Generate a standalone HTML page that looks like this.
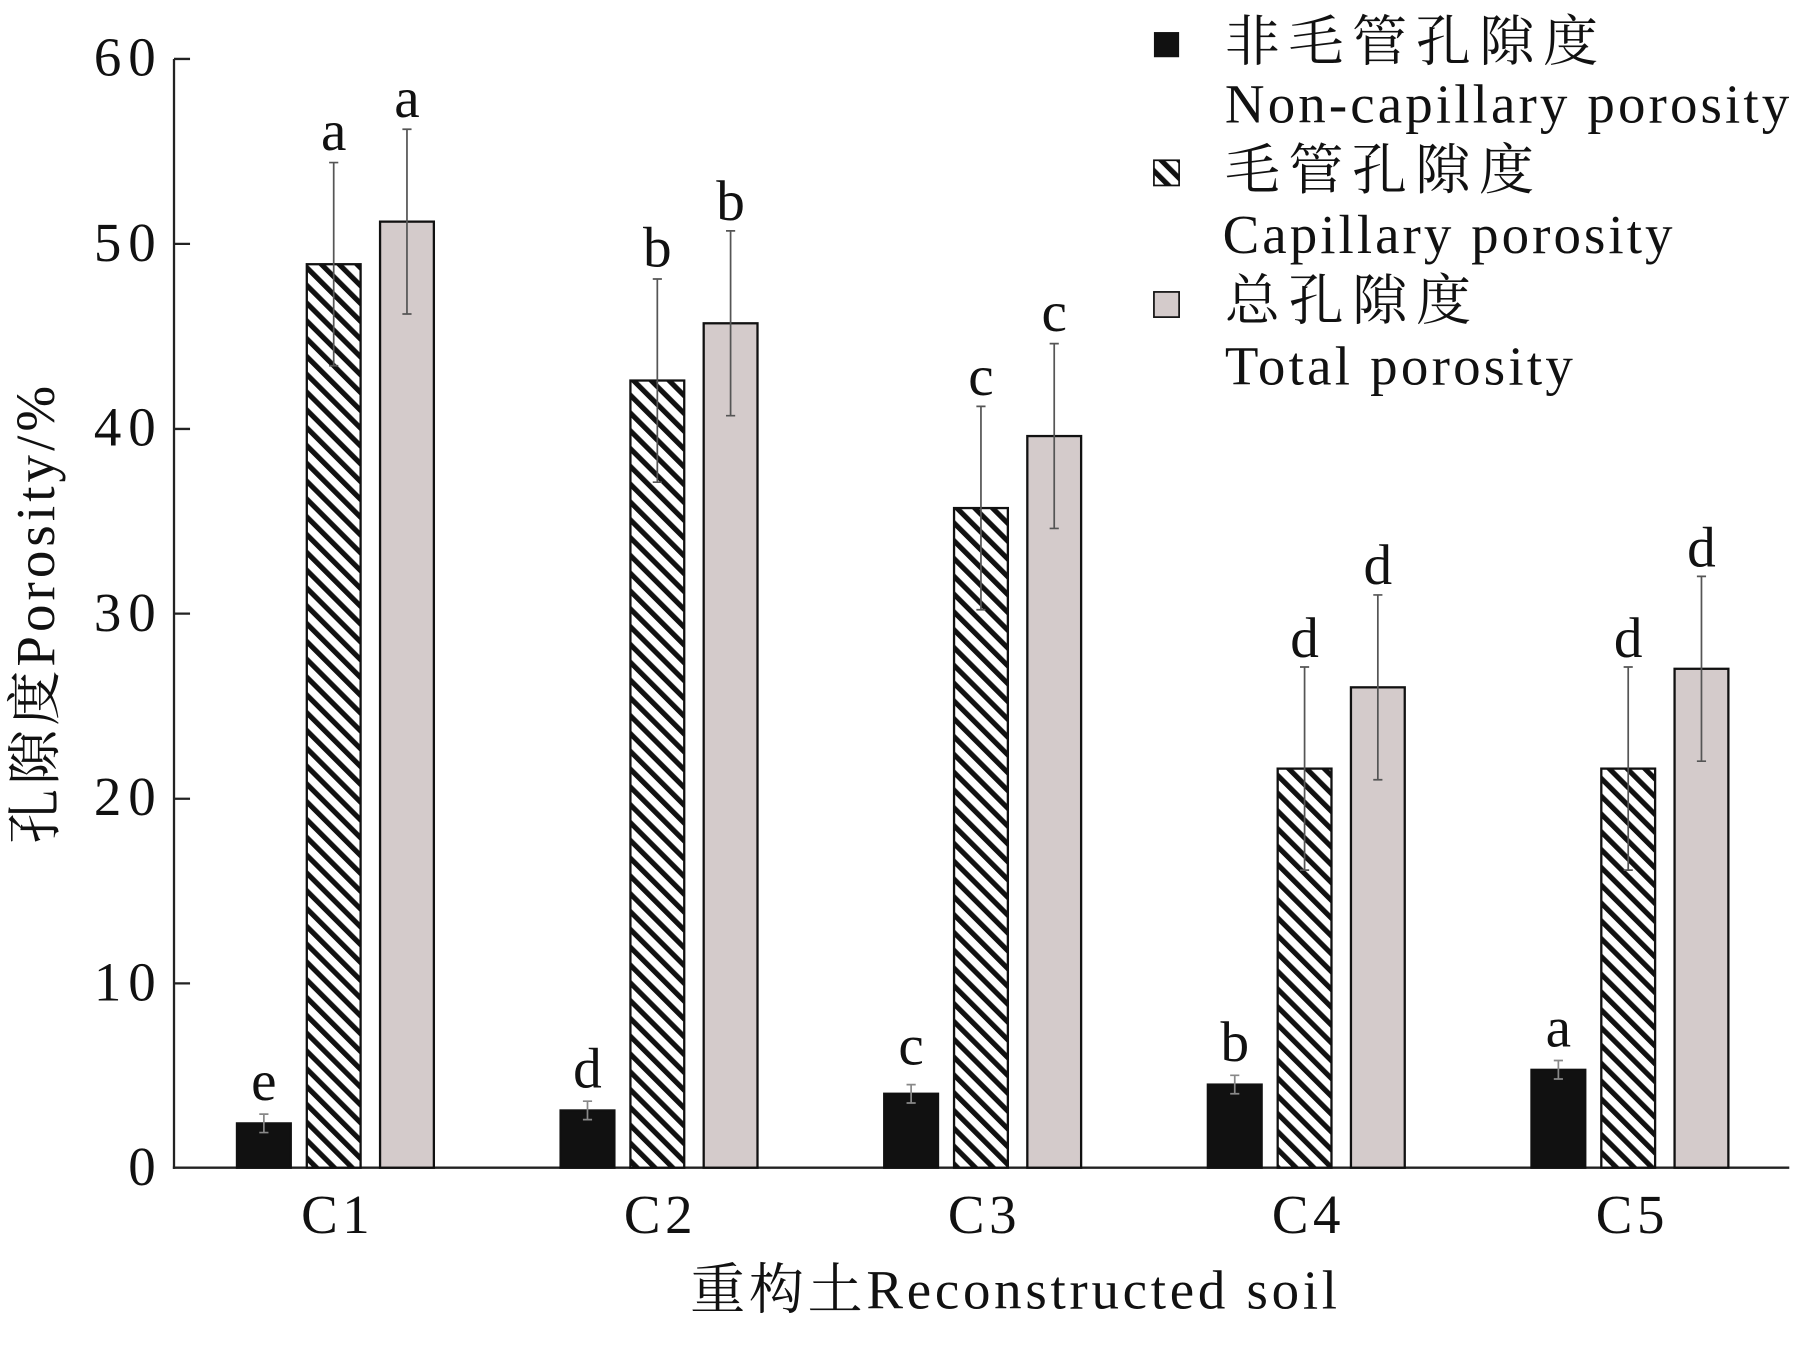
<!DOCTYPE html>
<html><head><meta charset="utf-8"><style>body{margin:0;background:#fff}svg{display:block}</style></head><body>
<svg width="1795" height="1348" viewBox="0 0 1568 1177.5" preserveAspectRatio="none" font-family="'Liberation Serif','Noto Serif CJK SC',serif" fill="#111">
<defs><pattern id="h" width="11" height="11" patternUnits="userSpaceOnUse" patternTransform="rotate(-45)"><rect width="11" height="11" fill="#fff"/><rect width="4.5" height="11" fill="#111"/></pattern></defs>
<g stroke="#222" stroke-width="2" fill="none">
<line x1="152" y1="51.5" x2="152" y2="1021"/><line x1="151" y1="1020" x2="1563" y2="1020"/>
<line x1="152" y1="51.5" x2="166" y2="51.5"/><line x1="152" y1="213" x2="166" y2="213"/><line x1="152" y1="374.7" x2="166" y2="374.7"/><line x1="152" y1="536" x2="166" y2="536"/><line x1="152" y1="697.7" x2="166" y2="697.7"/><line x1="152" y1="859" x2="166" y2="859"/>
</g>
<g font-size="48" text-anchor="end"><text x="136" y="66" textLength="54">60</text><text x="136" y="228" textLength="54">50</text><text x="136" y="389" textLength="54">40</text><text x="136" y="551" textLength="54">30</text><text x="136" y="712" textLength="54">20</text><text x="136" y="874" textLength="54">10</text><text x="136" y="1035">0</text></g>
<g font-size="48"><text x="263" y="1077" textLength="60">C1</text><text x="545" y="1077" textLength="60">C2</text><text x="828" y="1077" textLength="60">C3</text><text x="1111" y="1077" textLength="60">C4</text><text x="1394" y="1077" textLength="60">C5</text>
<text x="603" y="1143" textLength="565">重构土Reconstructed soil</text>
<text transform="translate(47,737) rotate(-90)" textLength="400">孔隙度Porosity/%</text></g>
<g stroke="#111" stroke-width="2">
<rect x="207" y="981.3" width="47" height="38.7" fill="#111"/>
<rect x="268" y="230.8" width="47" height="789.2" fill="url(#h)"/>
<rect x="332" y="193.6" width="47" height="826.4" fill="#d4cbcb"/>
<rect x="489.7" y="970" width="47" height="50" fill="#111"/>
<rect x="550.7" y="332.4" width="47" height="687.6" fill="url(#h)"/>
<rect x="614.7" y="282.4" width="47" height="737.6" fill="#d4cbcb"/>
<rect x="772.4" y="955.4" width="47" height="64.6" fill="#111"/>
<rect x="833.4" y="443.8" width="47" height="576.2" fill="url(#h)"/>
<rect x="897.4" y="380.9" width="47" height="639.1" fill="#d4cbcb"/>
<rect x="1055.1" y="947.4" width="47" height="72.6" fill="#111"/>
<rect x="1116.1" y="671.4" width="47" height="348.6" fill="url(#h)"/>
<rect x="1180.1" y="600.4" width="47" height="419.6" fill="#d4cbcb"/>
<rect x="1337.8" y="934.5" width="47" height="85.5" fill="#111"/>
<rect x="1398.8" y="671.4" width="47" height="348.6" fill="url(#h)"/>
<rect x="1462.8" y="584.2" width="47" height="435.8" fill="#d4cbcb"/>
</g>
<g stroke="#888" stroke-width="1.5" fill="none">
<path d="M230.5 973.2V989.3M226.5 973.2h8M226.5 989.3h8"/>
<path d="M513.2 961.9V978M509.2 961.9h8M509.2 978h8"/>
<path d="M795.9 947.4V963.5M791.9 947.4h8M791.9 963.5h8"/>
<path d="M1078.6 939.3V955.4M1074.6 939.3h8M1074.6 955.4h8"/>
<path d="M1361.3 926.4V942.5M1357.3 926.4h8M1357.3 942.5h8"/>
</g>
<g stroke="#555" stroke-width="1.5" fill="none">
<path d="M291.5 142V319.5M287.5 142h8M287.5 319.5h8"/>
<path d="M355.5 112.9V274.3M351.5 112.9h8M351.5 274.3h8"/>
<path d="M574.2 243.7V421.2M570.2 243.7h8M570.2 421.2h8"/>
<path d="M638.2 201.7V363.1M634.2 201.7h8M634.2 363.1h8"/>
<path d="M856.9 355V532.6M852.9 355h8M852.9 532.6h8"/>
<path d="M920.9 300.2V461.6M916.9 300.2h8M916.9 461.6h8"/>
<path d="M1139.6 582.6V760.1M1135.6 582.6h8M1135.6 760.1h8"/>
<path d="M1203.6 519.7V681.1M1199.6 519.7h8M1199.6 681.1h8"/>
<path d="M1422.3 582.6V760.1M1418.3 582.6h8M1418.3 760.1h8"/>
<path d="M1486.3 503.5V664.9M1482.3 503.5h8M1482.3 664.9h8"/>
</g>
<g font-size="50" text-anchor="middle">
<text x="230.5" y="961">e</text><text x="291.5" y="131">a</text><text x="355.5" y="102">a</text>
<text x="513.2" y="950">d</text><text x="574.2" y="233">b</text><text x="638.2" y="192">b</text>
<text x="795.9" y="930">c</text><text x="856.9" y="345">c</text><text x="920.9" y="289">c</text>
<text x="1078.6" y="927">b</text><text x="1139.6" y="574">d</text><text x="1203.6" y="510">d</text>
<text x="1361.3" y="914">a</text><text x="1422.3" y="574">d</text><text x="1486.3" y="495">d</text>
</g>
<g font-size="48">
<rect x="1008" y="28" width="22" height="22" fill="#111"/><rect x="1008" y="140" width="22" height="22" fill="url(#h)" stroke="#111" stroke-width="1.5"/><rect x="1008" y="255" width="22" height="22" fill="#d4cbcb" stroke="#111" stroke-width="1.5"/>
<text x="1070" y="53" textLength="326">非毛管孔隙度</text><text x="1070" y="107" textLength="493">Non-capillary porosity</text>
<text x="1070" y="165" textLength="270">毛管孔隙度</text><text x="1068" y="221" textLength="393">Capillary porosity</text>
<text x="1070" y="279" textLength="215">总孔隙度</text><text x="1070" y="336" textLength="304">Total porosity</text>
</g>
</svg></body></html>
